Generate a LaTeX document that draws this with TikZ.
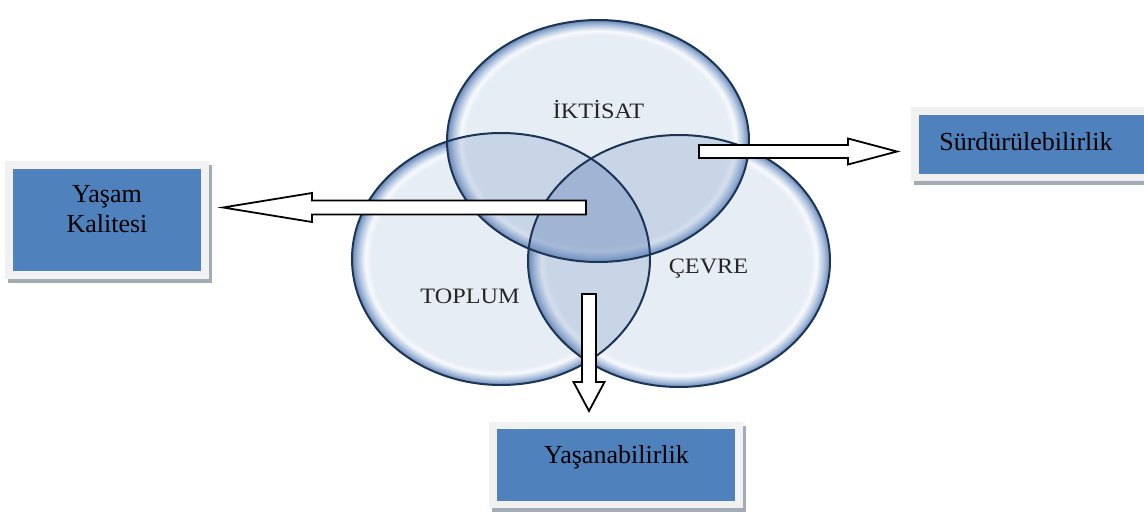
\documentclass[tikz,border=0pt]{standalone}
\usepackage{graphicx}
\usepackage{fontspec}
\setmainfont{Liberation Serif}
\usetikzlibrary{calc,shadows}
\definecolor{boxblue}{HTML}{4F81BD}
\definecolor{framegray}{HTML}{F1F1F1}
\definecolor{shadowgray}{HTML}{A3ABB6}
\definecolor{rimline}{HTML}{1C3557}
\definecolor{gin}{HTML}{E7EDF5}
\definecolor{ghi}{HTML}{F7F9FC}
\definecolor{gmid}{HTML}{B4C7E2}
\definecolor{grim}{HTML}{6A88B5}
\definecolor{tint}{HTML}{6F8FBF}
\definecolor{txt}{HTML}{262626}
\pgfdeclareradialshading{glass}{\pgfpoint{0bp}{0bp}}{color(0bp)=(gin); color(21.8bp)=(gin); color(22.8bp)=(ghi); color(23.9bp)=(gmid); color(25bp)=(grim); color(50bp)=(grim)}
\newcommand{\wideT}[1]{\scalebox{1.1}[1]{#1}}
\begin{document}
\begin{tikzpicture}[x=1pt,y=-1pt,
  ring/.style={draw=rimline, line width=2pt},
  ringtext/.style={font=\fontsize{22}{26}\selectfont, text=txt, inner sep=0, anchor=base},
  frame/.style={rectangle, fill=framegray, inner sep=0, draw=none,
     drop shadow={shadow xshift=3pt, shadow yshift=-4pt, fill=shadowgray, opacity=1}},
  bluebox/.style={rectangle, fill=boxblue, inner sep=0, draw=none},
  boxtext/.style={font=\fontsize{26}{30}\selectfont, text=black, inner sep=0, align=center},
  blockarrow/.style={draw=black, fill=white, line width=1.8pt, line join=miter}]
\useasboundingbox (0,0) rectangle (1144,514);
\clip (0,0) rectangle (1144,514);
\def\ellT{(598,141) ellipse [x radius=151pt, y radius=121pt]}
\def\ellL{(501,259) ellipse [x radius=149pt, y radius=126pt]}
\def\ellR{(679,261) ellipse [x radius=151pt, y radius=126pt]}
% ellipse bodies
\shade[shading=glass] \ellL;
\shade[shading=glass] \ellR;
\shade[shading=glass] \ellT;
% overlap tints
\begin{scope}\clip \ellT; \fill[tint, opacity=0.25] \ellL; \end{scope}
\begin{scope}\clip \ellT; \fill[tint, opacity=0.25] \ellR; \end{scope}
\begin{scope}\clip \ellL; \fill[tint, opacity=0.25] \ellR; \end{scope}
% outlines
\draw[ring] \ellL;
\draw[ring] \ellR;
\draw[ring] \ellT;
% ring labels
\node[ringtext] (iktisat) at (598.5,118) {\wideT{İKTİSAT}};
\node[ringtext] (toplum) at (470,303) {\wideT{TOPLUM}};
\node[ringtext] (cevre) at (708.5,273.5) {\wideT{ÇEVRE}};
% block arrows
\coordinate (lA) at (586,207.5); \coordinate (lT) at (223,207.5);
\draw[blockarrow] ($(lA)+(0,-7)$) -- ($(lT)+(89,-7)$) -- ($(lT)+(89,-14.5)$) -- (lT)
  -- ($(lT)+(89,14.5)$) -- ($(lT)+(89,7)$) -- ($(lA)+(0,7)$) -- cycle;
\coordinate (rA) at (699,151.5); \coordinate (rT) at (897,151.5);
\draw[blockarrow] ($(rA)+(0,-6.5)$) -- ($(rT)+(-49,-6.5)$) -- ($(rT)+(-49,-13)$) -- (rT)
  -- ($(rT)+(-49,13)$) -- ($(rT)+(-49,6.5)$) -- ($(rA)+(0,6.5)$) -- cycle;
\coordinate (dA) at (589,294); \coordinate (dT) at (589,411);
\draw[blockarrow] ($(dA)+(-7,0)$) -- ($(dT)+(-7,-29)$) -- ($(dT)+(-15.5,-29)$) -- (dT)
  -- ($(dT)+(15.5,-29)$) -- ($(dT)+(7,-29)$) -- ($(dA)+(7,0)$) -- cycle;
% boxes
\node[frame, minimum width=204pt, minimum height=118pt] (fq) at (107,220) {};
\node[bluebox, minimum width=188pt, minimum height=102pt] (bq) at (107,220) {};
\node[boxtext] (tq) at (107,209.5) {Yaşam\\Kalitesi};
\node[frame, minimum width=240pt, minimum height=74pt] (fs) at (1031,144) {};
\node[bluebox, minimum width=232pt, minimum height=59pt] (bs) at (1035,144.5) {};
\node[boxtext, anchor=base] (ts) at (1026,150) {Sürdürülebilirlik};
\node[frame, minimum width=254pt, minimum height=86pt] (fy) at (616,465) {};
\node[bluebox, minimum width=238pt, minimum height=72pt] (by) at (616,465) {};
\node[boxtext, anchor=base] (ty) at (616.5,463) {Yaşanabilirlik};
\end{tikzpicture}
\end{document}
